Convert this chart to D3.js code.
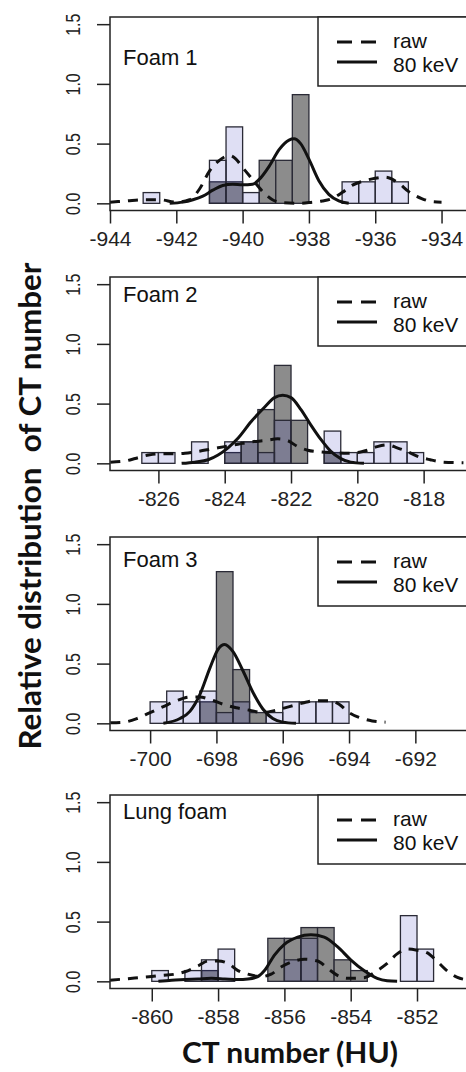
<!DOCTYPE html>
<html lang="en">
	<head>
		<meta charset="utf-8">
		<title>Relative distribution of CT number</title>
		<script type="text/javascript" src="https://cdn.jsdelivr.net/npm/d3@7"></script>
		<style type="text/css">

			body {
				margin: 0;
				background: #fff;
			}

			svg {
				display: block;
			}

			.tick text {
				font-family: "Liberation Sans", Arial, sans-serif;
				fill: #222;
			}

			.tick line {
				stroke: #222;
				stroke-width: 1.5px;
			}

		</style>
	</head>
	<body>
		<script type="text/javascript">

			//Width and height
			var w = 466;
			var h = 1072;

			//Histogram bin width (HU)
			var binWidth = 0.5;

			var panelNames = ["Foam 1", "Foam 2", "Foam 3", "Lung foam"];
			var legendLabels = ["raw", "80 keV"];
			var yTicks = [0, 0.5, 1.0, 1.5];

			var xTicks1 = [-944, -942, -940, -938, -936, -934];
			var xTicks2 = [-826, -824, -822, -820, -818];
			var xTicks3 = [-700, -698, -696, -694, -692];
			var xTicks4 = [-860, -858, -856, -854, -852];

			//Histogram bars: [bin start, relative density]
			var foam1RawBars = [[-943, 0.09], [-941, 0.36], [-940.5, 0.64], [-940, 0.09],
								[-937, 0.18], [-936.5, 0.18], [-936, 0.27], [-935.5, 0.18]];
			var foam1KevBars = [[-941, 0.18], [-940.5, 0.18], [-939.5, 0.36], [-939, 0.36], [-938.5, 0.91]];

			var foam2RawBars = [[-826.5, 0.09], [-826, 0.09], [-825, 0.18], [-824, 0.18], [-823.5, 0.18],
								[-823, 0.09], [-822.5, 0.36], [-821, 0.27], [-820.5, 0.09], [-820, 0.09],
								[-819.5, 0.18], [-819, 0.18], [-818.5, 0.09]];
			var foam2KevBars = [[-824, 0.09], [-823.5, 0.18], [-823, 0.45], [-822.5, 0.82], [-822, 0.36], [-821, 0.09]];

			var foam3RawBars = [[-700, 0.18], [-699.5, 0.27], [-699, 0.18], [-698.5, 0.27], [-698, 0.09],
								[-697.5, 0.18], [-696.5, 0.09], [-696, 0.18], [-695.5, 0.18], [-695, 0.18], [-694.5, 0.18]];
			var foam3KevBars = [[-698.5, 0.18], [-698, 1.27], [-697.5, 0.45], [-697, 0.09]];

			var lungRawBars = [[-860, 0.09], [-859, 0.09], [-858.5, 0.18], [-858, 0.27],
							   [-856, 0.18], [-855.5, 0.36], [-852.5, 0.55], [-852, 0.27]];
			var lungKevBars = [[-858.5, 0.09], [-856.5, 0.36], [-856, 0.36], [-855.5, 0.45],
							   [-855, 0.45], [-854.5, 0.18], [-854, 0.09]];

			//Density curves: [CT number, density]
			var foam1RawCurve = [[-944, 0.01], [-943.5, 0.02], [-943, 0.03], [-942.5, 0.03], [-942, 0.01],
								 [-941.6, 0.03], [-941.3, 0.12], [-941, 0.27], [-940.7, 0.36], [-940.4, 0.4],
								 [-940.2, 0.37], [-940, 0.3], [-939.7, 0.2], [-939.4, 0.1], [-939.1, 0.03],
								 [-938.8, 0.005], [-938.3, 0], [-937.9, 0.01], [-937.6, 0.02], [-937.3, 0.04],
								 [-937, 0.09], [-936.7, 0.15], [-936.3, 0.19], [-936, 0.21], [-935.7, 0.22],
								 [-935.3, 0.17], [-935, 0.1], [-934.6, 0.04], [-934.3, 0.015], [-934, 0.01]];
			var foam1KevCurve = [[-942.2, 0], [-941.8, 0.01], [-941.5, 0.03], [-941.2, 0.06], [-940.9, 0.11],
								 [-940.6, 0.15], [-940.3, 0.16], [-940, 0.155], [-939.7, 0.16], [-939.5, 0.2],
								 [-939.2, 0.31], [-938.9, 0.45], [-938.6, 0.53], [-938.45, 0.54], [-938.25, 0.5],
								 [-938, 0.37], [-937.7, 0.19], [-937.4, 0.075], [-937.1, 0.02], [-936.8, 0]];

			var foam2RawCurve = [[-827.45, 0.01], [-827, 0.02], [-826.7, 0.04], [-826.3, 0.07], [-826, 0.08],
								 [-825.6, 0.08], [-825.2, 0.085], [-824.8, 0.1], [-824.4, 0.12], [-824, 0.14],
								 [-823.6, 0.16], [-823.2, 0.18], [-822.8, 0.19], [-822.4, 0.205], [-822.1, 0.19],
								 [-821.8, 0.14], [-821.5, 0.11], [-821.1, 0.095], [-820.7, 0.09], [-820.3, 0.085],
								 [-820, 0.09], [-819.7, 0.11], [-819.4, 0.14], [-819.1, 0.155], [-818.8, 0.13],
								 [-818.5, 0.1], [-818.2, 0.06], [-817.8, 0.03], [-817.4, 0.01], [-816.8, 0.005]];
			var foam2KevCurve = [[-825.3, 0], [-824.9, 0.01], [-824.5, 0.03], [-824.2, 0.07], [-823.9, 0.13],
								 [-823.6, 0.21], [-823.2, 0.35], [-822.8, 0.47], [-822.5, 0.55], [-822.25, 0.57],
								 [-822, 0.55], [-821.7, 0.45], [-821.4, 0.32], [-821.1, 0.2], [-820.8, 0.1],
								 [-820.5, 0.04], [-820.2, 0.01], [-819.8, 0]];

			var foam3RawCurve = [[-701.2, 0.005], [-700.8, 0.01], [-700.4, 0.04], [-700, 0.09], [-699.6, 0.14],
								 [-699.2, 0.19], [-698.8, 0.22], [-698.5, 0.22], [-698.2, 0.2], [-697.8, 0.16],
								 [-697.4, 0.13], [-697, 0.11], [-696.6, 0.09], [-696.2, 0.11], [-695.8, 0.14],
								 [-695.4, 0.17], [-695, 0.19], [-694.6, 0.19], [-694.3, 0.16], [-694, 0.09],
								 [-693.7, 0.05], [-693.3, 0.02], [-692.9, 0.01]];
			var foam3KevCurve = [[-699.6, 0], [-699.1, 0.04], [-698.8, 0.1], [-698.5, 0.24], [-698.2, 0.46],
								 [-697.95, 0.62], [-697.75, 0.66], [-697.5, 0.6], [-697.2, 0.44], [-696.9, 0.26],
								 [-696.6, 0.12], [-696.3, 0.04], [-696, 0.01], [-695.6, 0]];

			var lungRawCurve = [[-861.26, 0.01], [-860.8, 0.02], [-860.4, 0.03], [-860, 0.04], [-859.7, 0.05],
								[-859.3, 0.06], [-859, 0.08], [-858.6, 0.13], [-858.3, 0.17], [-858, 0.17],
								[-857.7, 0.15], [-857.4, 0.09], [-857.1, 0.06], [-856.7, 0.04], [-856.4, 0.06],
								[-856.1, 0.12], [-855.8, 0.16], [-855.4, 0.185], [-855, 0.17], [-854.7, 0.11],
								[-854.4, 0.05], [-854.1, 0.025], [-853.6, 0.03], [-853.2, 0.09], [-852.9, 0.15],
								[-852.6, 0.23], [-852.3, 0.27], [-852, 0.26], [-851.7, 0.24], [-851.4, 0.17],
								[-851.1, 0.09], [-850.8, 0.035], [-850.4, 0.01]];
			var lungKevCurve = [[-859.8, 0], [-859.4, 0.01], [-859, 0.015], [-858.6, 0.02], [-858.2, 0.025],
								[-857.8, 0.02], [-857.4, 0.015], [-857.1, 0.02], [-856.8, 0.04], [-856.6, 0.09],
								[-856.3, 0.22], [-856, 0.31], [-855.6, 0.37], [-855.2, 0.39], [-854.8, 0.37],
								[-854.4, 0.29], [-854, 0.18], [-853.6, 0.09], [-853.2, 0.025], [-852.9, 0.005],
								[-852.6, 0]];

			//Panel layout (positions only)
			var plotLeft = 110;
			var plotRight = 480;
			var plotHeight = 193.5;
			var panels = [
				{ name: panelNames[0], top: 17,  labelDy: 48, domain: [-944, -932.84],     ticks: xTicks1,
				  raw: foam1RawBars, kev: foam1KevBars, rawCurve: foam1RawCurve, kevCurve: foam1KevCurve },
				{ name: panelNames[1], top: 277, labelDy: 25, domain: [-827.46, -816.30],  ticks: xTicks2,
				  raw: foam2RawBars, kev: foam2KevBars, rawCurve: foam2RawCurve, kevCurve: foam2KevCurve },
				{ name: panelNames[2], top: 537, labelDy: 30, domain: [-701.21, -690.05],  ticks: xTicks3,
				  raw: foam3RawBars, kev: foam3KevBars, rawCurve: foam3RawCurve, kevCurve: foam3KevCurve },
				{ name: panelNames[3], top: 795, labelDy: 24, domain: [-861.26, -850.10],  ticks: xTicks4,
				  raw: lungRawBars, kev: lungKevBars, rawCurve: lungRawCurve, kevCurve: lungKevCurve }
			];

			//Create SVG element
			var svg = d3.select("body")
						.append("svg")
						.attr("width", w)
						.attr("height", h);

			panels.forEach((p, i) => {

				var xScale = d3.scaleLinear()
								.domain(p.domain)
								.range([plotLeft, plotRight]);

				var yScale = d3.scaleLinear()
								.domain([-0.06, 1.56])
								.range([p.top + plotHeight, p.top]);

				var g = svg.append("g");

				g.append("clipPath")
				 .attr("id", "clip" + i)
				 .append("rect")
				 .attr("x", plotLeft)
				 .attr("y", p.top)
				 .attr("width", plotRight - plotLeft)
				 .attr("height", plotHeight);

				var plot = g.append("g")
							.attr("clip-path", "url(#clip" + i + ")");

				//80 keV histogram (grey)
				plot.selectAll("rect.kev")
					.data(p.kev)
					.enter()
					.append("rect")
					.attr("class", "kev")
					.attr("x", d => xScale(d[0]))
					.attr("y", d => yScale(d[1]))
					.attr("width", d => xScale(d[0] + binWidth) - xScale(d[0]))
					.attr("height", d => yScale(0) - yScale(d[1]))
					.attr("fill", "#8c8c8c")
					.attr("stroke", "#2a2a36")
					.attr("stroke-width", 1.3);

				//raw histogram (translucent lavender on top)
				plot.selectAll("rect.raw")
					.data(p.raw)
					.enter()
					.append("rect")
					.attr("class", "raw")
					.attr("x", d => xScale(d[0]))
					.attr("y", d => yScale(d[1]))
					.attr("width", d => xScale(d[0] + binWidth) - xScale(d[0]))
					.attr("height", d => yScale(0) - yScale(d[1]))
					.attr("fill", "rgba(40, 40, 180, 0.15)")
					.attr("stroke", "#2a2a36")
					.attr("stroke-width", 1.3);

				var line = d3.line()
							 .x(d => xScale(d[0]))
							 .y(d => yScale(d[1]))
							 .curve(d3.curveMonotoneX);

				plot.append("path")
					.datum(p.rawCurve)
					.attr("d", line)
					.attr("fill", "none")
					.attr("stroke", "#111")
					.attr("stroke-width", 3)
					.attr("stroke-dasharray", "10,8");

				plot.append("path")
					.datum(p.kevCurve)
					.attr("d", line)
					.attr("fill", "none")
					.attr("stroke", "#111")
					.attr("stroke-width", 3);

				//Box
				g.append("rect")
				 .attr("x", plotLeft)
				 .attr("y", p.top)
				 .attr("width", plotRight - plotLeft)
				 .attr("height", plotHeight)
				 .attr("fill", "none")
				 .attr("stroke", "#222")
				 .attr("stroke-width", 1.5);

				//X axis
				var xAxis = g.append("g")
							 .attr("transform", "translate(0," + (p.top + plotHeight) + ")")
							 .call(d3.axisBottom(xScale)
									 .tickValues(p.ticks)
									 .tickSize(13)
									 .tickSizeOuter(0)
									 .tickFormat(d => String(d)));
				xAxis.select(".domain").remove();
				xAxis.selectAll(".tick text")
					 .attr("y", 35)
					 .attr("dy", null)
					 .style("font-size", "21px");

				//Y axis
				var yAxis = g.append("g")
							 .attr("transform", "translate(" + plotLeft + ",0)")
							 .call(d3.axisLeft(yScale)
									 .tickValues(yTicks)
									 .tickSize(13)
									 .tickSizeOuter(0)
									 .tickFormat(d3.format(".1f")));
				yAxis.select(".domain").remove();
				yAxis.selectAll(".tick text")
					 .attr("x", null)
					 .attr("dy", null)
					 .attr("text-anchor", "middle")
					 .attr("transform", "translate(-30,0) scale(1.3,1) rotate(-90)")
					 .style("font-size", "16px");

				//Panel label
				g.append("text")
				 .attr("x", 123)
				 .attr("y", p.top + p.labelDy)
				 .attr("font-family", "'Liberation Sans', Arial, sans-serif")
				 .attr("font-size", 22)
				 .attr("fill", "#111")
				 .text(p.name);

				//Legend
				var legend = g.append("g");
				legend.append("rect")
					  .attr("x", 318)
					  .attr("y", p.top)
					  .attr("width", 200)
					  .attr("height", 69)
					  .attr("fill", "#fff")
					  .attr("stroke", "#222")
					  .attr("stroke-width", 1.5);

				legendLabels.forEach((lab, j) => {
					legend.append("line")
						  .attr("x1", 337)
						  .attr("x2", 377)
						  .attr("y1", p.top + 25 + j * 20)
						  .attr("y2", p.top + 25 + j * 20)
						  .attr("stroke", "#111")
						  .attr("stroke-width", 3)
						  .attr("stroke-dasharray", j === 0 ? "15,9" : null);
					legend.append("text")
						  .attr("x", 393)
						  .attr("y", p.top + 31 + j * 23.5)
						  .attr("font-family", "'Liberation Sans', Arial, sans-serif")
						  .attr("font-size", 21)
						  .attr("fill", "#111")
						  .text(lab);
				});
			});

			//Axis titles
			svg.append("text")
			   .attr("transform", "translate(41,506) rotate(-90)")
			   .attr("text-anchor", "middle")
			   .attr("font-family", "Lato, 'Open Sans', sans-serif")
			   .attr("font-weight", "bold")
			   .attr("font-size", 30)
			   .attr("textLength", 487)
			   .attr("lengthAdjust", "spacingAndGlyphs")
			   .style("white-space", "pre")
			   .attr("fill", "#111")
			   .text("Relative distribution  of CT number");

			svg.append("text")
			   .attr("x", 290)
			   .attr("y", 1063)
			   .attr("text-anchor", "middle")
			   .attr("font-family", "Lato, 'Open Sans', sans-serif")
			   .attr("font-weight", "bold")
			   .attr("font-size", 28)
			   .attr("textLength", 216)
			   .attr("lengthAdjust", "spacingAndGlyphs")
			   .attr("fill", "#111")
			   .text("CT number (HU)");

		</script>
	</body>
</html>
